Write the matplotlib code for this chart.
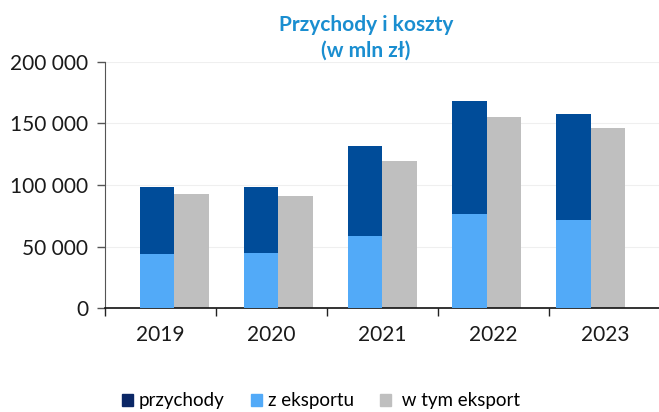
import numpy as np
import matplotlib
matplotlib.use("Agg")
import matplotlib.pyplot as plt
from matplotlib.patches import Patch
from matplotlib.ticker import FuncFormatter

# data (mln zl)
years = ["2019", "2020", "2021", "2022", "2023"]
przychody = [98600, 98100, 131400, 167900, 157800]
z_eksportu = [44000, 44600, 58400, 76200, 71900]
w_tym_eksport = [92400, 91300, 119200, 154900, 146300]

plt.rcParams['font.family'] = ['Lato', 'DejaVu Sans']

fig = plt.figure(figsize=(6.59, 4.12), dpi=100)
ax = fig.add_axes([0.159, 0.2517, 0.843, 0.5986])

x = np.arange(len(years))
# bars sit on a slightly tighter grid than the category ticks (as in source)
step = 0.937
w = 0.31
xb = -0.1854 + w / 2 + x * step
c_dark = "#004c99"
c_light = "#52aaf8"
c_gray = "#bfbfbf"

ax.bar(xb, przychody, w, color=c_dark, zorder=2)
ax.bar(xb, z_eksportu, w, color=c_light, zorder=3)
ax.bar(xb + w, w_tym_eksport, w, color=c_gray, zorder=2)

ax.set_xlim(-0.5, len(years) - 0.5)
ax.set_ylim(0, 200000)
ax.set_yticks(np.arange(0, 200001, 50000))
ax.yaxis.set_major_formatter(FuncFormatter(lambda v, p: f"{int(v):,}".replace(",", " ")))
ax.grid(axis="y", color="#efefef", lw=0.8, zorder=0)

# category labels centred, tick marks on boundaries
ax.set_xticks(np.arange(-0.5, len(years), 1.0))
ax.set_xticklabels([])
ax.set_xticks(x, minor=True)
ax.set_xticklabels(years, minor=True)
ax.tick_params(axis="x", which="major", length=6, width=1, color="#222222", direction="out")
ax.tick_params(axis="x", which="minor", length=0, labelsize=15, pad=12, labelcolor="#1a1a1a")
ax.tick_params(axis="y", length=6, width=1, color="#555555", labelsize=15, pad=6, labelcolor="#1a1a1a")

for s in ["top", "right"]:
    ax.spines[s].set_visible(False)
ax.spines["left"].set_color("#555555")
ax.spines["bottom"].set_color("#111111")
ax.spines["bottom"].set_linewidth(1.2)

fig.text(0.555, 0.908, "Przychody i koszty\n(w mln zł)", ha="center", va="center",
         color="#1a8ed0", fontsize=15, fontweight="bold", linespacing=1.35)

handles = [Patch(color="#0b2766"), Patch(color=c_light), Patch(color=c_gray)]
labels = ["przychody", "z eksportu", " w tym eksport"]
fig.legend(handles, labels, loc="center", bbox_to_anchor=(0.487, 0.027), ncol=3,
           frameon=False, fontsize=13.5, handlelength=0.6, handleheight=0.6,
           handletextpad=0.3, columnspacing=1.4)

fig.savefig("out.png", dpi=100)
